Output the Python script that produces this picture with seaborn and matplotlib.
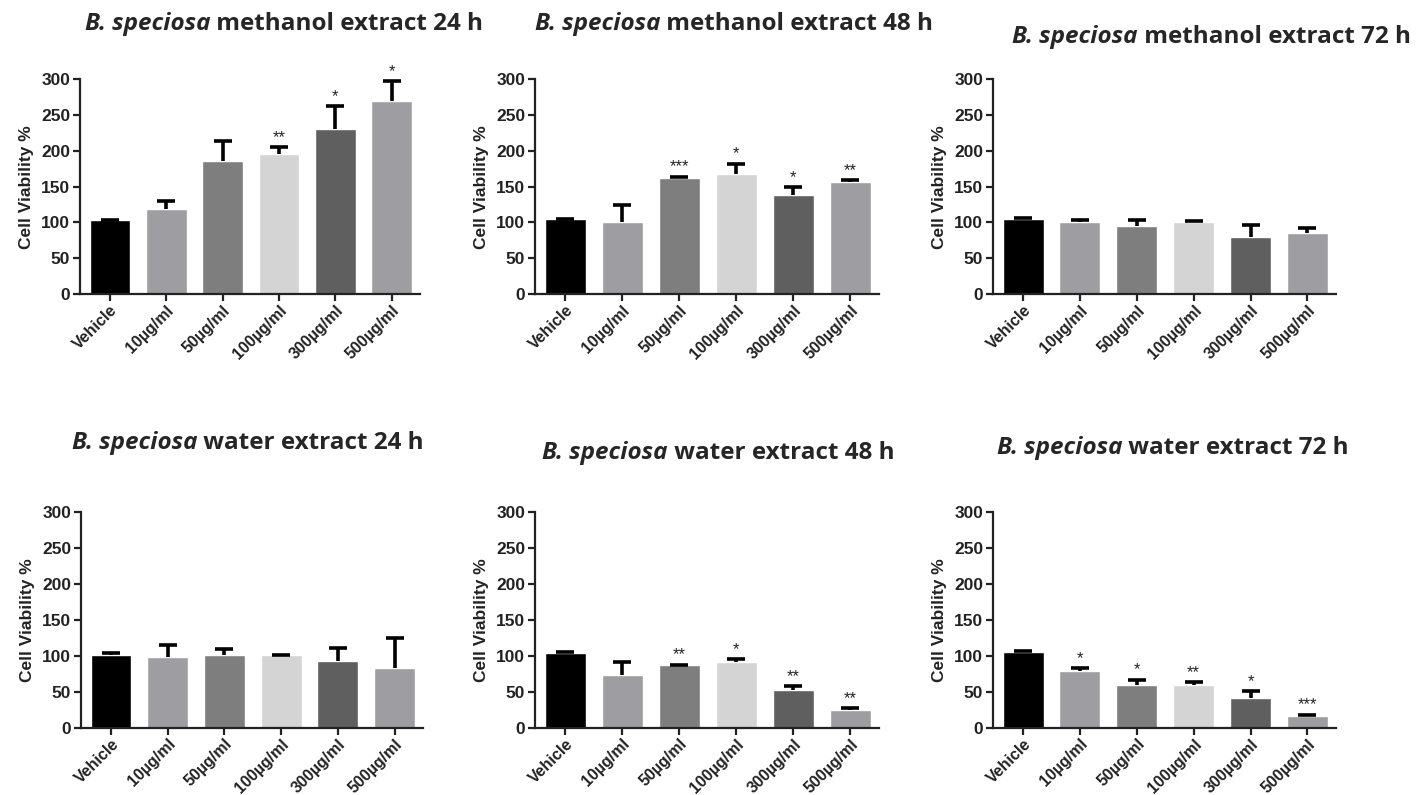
#!/usr/bin/env python3
"""Cell viability bar panels for B. speciosa extracts (6 panels)."""

import matplotlib

matplotlib.use("Agg")
import matplotlib.pyplot as plt
import numpy as np
import seaborn as sns

categories = ["Vehicle", "10µg/ml", "50µg/ml", "100µg/ml", "300µg/ml", "500µg/ml"]
bar_colors = ["#000000", "#9e9ea2", "#7e7e7e", "#d4d4d4", "#5f5f5f", "#9e9ea2"]

# means and upper error (SEM)
meth_24_mean = [104, 119, 186, 195, 230, 270]
meth_24_err = [0, 11, 28, 10, 32, 27]
meth_24_sig = ["", "", "", "**", "*", "*"]

meth_48_mean = [105, 101, 162, 167, 139, 157]
meth_48_err = [0, 24, 2, 15, 10, 2]
meth_48_sig = ["", "", "***", "*", "*", "**"]

meth_72_mean = [105, 100, 95, 101, 80, 86]
meth_72_err = [1, 3, 9, 1, 17, 6]
meth_72_sig = ["", "", "", "", "", ""]

water_24_mean = [102, 99, 102, 101, 93, 83]
water_24_err = [2, 16, 8, 1, 18, 42]
water_24_sig = ["", "", "", "", "", ""]

water_48_mean = [104, 74, 87, 91, 53, 25]
water_48_err = [1, 17, 1, 5, 5, 3]
water_48_sig = ["", "", "**", "*", "**", "**"]

water_72_mean = [106, 79, 60, 60, 41, 17]
water_72_err = [0.5, 4, 7, 4, 10, 1.5]
water_72_sig = ["", "*", "*", "**", "*", "***"]

titles_rest = [
    " methanol extract 24 h",
    " methanol extract 48 h",
    " methanol extract 72 h",
    " water extract 24 h",
    " water extract 48 h",
    " water extract 72 h",
]

panels = [
    (meth_24_mean, meth_24_err, meth_24_sig),
    (meth_48_mean, meth_48_err, meth_48_sig),
    (meth_72_mean, meth_72_err, meth_72_sig),
    (water_24_mean, water_24_err, water_24_sig),
    (water_48_mean, water_48_err, water_48_sig),
    (water_72_mean, water_72_err, water_72_sig),
]

# axes rectangles in figure fractions, and title anchors (left, baseline)
axes_rects = [
    [0.0561, 0.630, 0.2386, 0.2704],
    [0.3754, 0.630, 0.2414, 0.2704],
    [0.6968, 0.630, 0.2407, 0.2704],
    [0.0568, 0.0843, 0.2400, 0.2717],
    [0.3754, 0.0843, 0.2414, 0.2717],
    [0.6968, 0.0843, 0.2407, 0.2717],
]
title_pos = [
    (0.0596, 0.9623),
    (0.3754, 0.9623),
    (0.7102, 0.9460),
    (0.0505, 0.4352),
    (0.3804, 0.4226),
    (0.6996, 0.4289),
]
title_font = ["Open Sans", "DejaVu Sans"]

sns.set_theme(style="ticks")
plt.rcParams["font.family"] = ["Liberation Sans", "DejaVu Sans"]
plt.rcParams["axes.linewidth"] = 1.6

fig = plt.figure(figsize=(14.25, 7.95), dpi=100)

for rect, (means, errs, sig) in zip(axes_rects, panels):
    ax = fig.add_axes(rect)
    sns.barplot(
        x=categories,
        y=means,
        hue=categories,
        palette=bar_colors,
        saturation=1,
        width=0.72,
        legend=False,
        ax=ax,
    )
    x = np.arange(len(categories))
    _, caps, _ = ax.errorbar(
        x,
        means,
        yerr=[np.zeros(len(means)), errs],
        fmt="none",
        ecolor="black",
        elinewidth=2.6,
        capsize=6.5,
        capthick=2.6,
        zorder=3,
    )
    caps[0].set_visible(False)

    for xi, m, e, s in zip(x, means, errs, sig):
        if s:
            ax.text(xi, m + e + 3, s, ha="center", va="bottom",
                    fontsize=12, color="#222222")

    ax.set_ylim(0, 300)
    ax.set_xlim(-0.53, 5.5)
    ax.set_yticks([0, 50, 100, 150, 200, 250, 300])
    ax.set_ylabel("Cell Viability %", fontsize=12.5, fontweight="bold",
                  color="#222222", labelpad=5)
    ax.set_xlabel("")
    ax.tick_params(axis="y", length=5, width=1.6, color="#222222",
                   labelsize=12.5, labelcolor="#222222", pad=2)
    ax.tick_params(axis="x", length=5, width=1.6, color="#222222",
                   labelsize=11.5, labelcolor="#222222", pad=1)
    for lab in ax.get_yticklabels():
        lab.set_fontweight("bold")
    plt.setp(ax.get_xticklabels(), rotation=45, ha="right", va="top",
             rotation_mode="anchor", fontweight="bold")
    for sp in ["left", "bottom"]:
        ax.spines[sp].set_color("#222222")
    sns.despine(ax=ax)

for (tx, ty), rest in zip(title_pos, titles_rest):
    t1 = fig.text(tx, ty, "B. speciosa", family=title_font,
                  fontsize=17.5, fontweight="bold", style="italic",
                  va="baseline", ha="left")
    plt.annotate(rest, xy=(1, 0), xycoords=t1, va="bottom", ha="left",
                 family=title_font, fontsize=17.5,
                 fontweight="bold", annotation_clip=False)

fig.savefig("out.png", dpi=100)
